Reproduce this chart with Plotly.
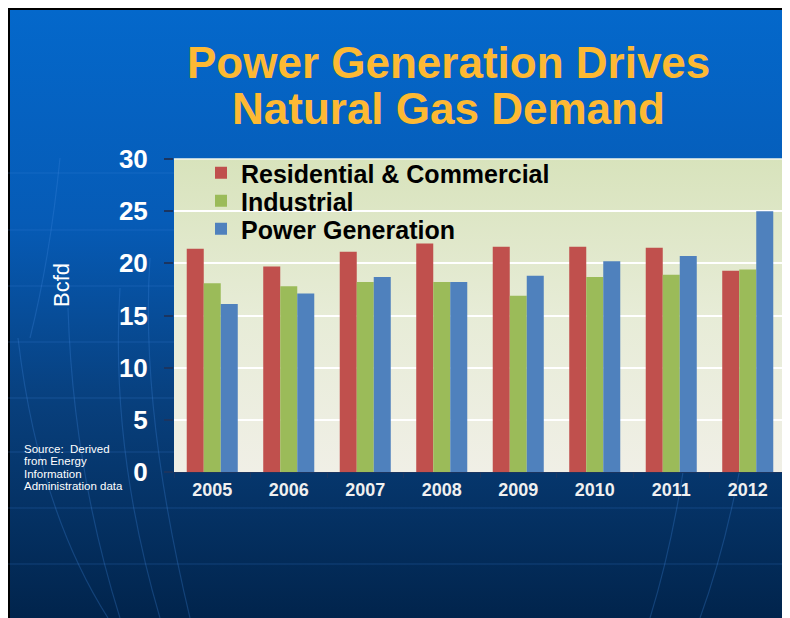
import base64
import plotly.graph_objects as go

# values (Bcfd)
years = ["2005", "2006", "2007", "2008", "2009", "2010", "2011", "2012"]
residential = [21.4, 19.7, 21.1, 21.9, 21.6, 21.6, 21.5, 19.3]
industrial = [18.1, 17.8, 18.2, 18.2, 16.9, 18.7, 18.9, 19.4]
power_gen = [16.1, 17.1, 18.7, 18.2, 18.8, 20.2, 20.7, 25.0]

series_names = ["Residential & Commercial", "Industrial", "Power Generation"]
series_colors = ["#C0504D", "#9BBB59", "#4F81BD"]
source_lines = ["Source:\u00a0 Derived", "from Energy", "Information", "Administration data"]

# page has an 8px body margin, so the figure is a bit smaller than the window
OFF = 8
W, H = 790 - OFF, 618 - OFF
L, R, T, B = 166, 4, 151, 146
PW, PH = W - L - R, H - T - B


def px(x):  # page pixel -> paper x
    return (x - OFF - L) / PW


def py(y):  # page pixel -> paper y
    return (H - B - (y - OFF)) / PH


def svg_uri(svg):
    return "data:image/svg+xml;base64," + base64.b64encode(svg.encode()).decode()


# slide background: blue gradient with faint globe lines (figure pixel coords)
lat = "".join(
    f'<line x1="0" y1="{y - OFF}" x2="{W}" y2="{y - OFF}" stroke="#3f8ae0" stroke-opacity="0.25" stroke-width="1.2"/>'
    for y in [173, 230, 286, 342, 398, 452, 508, 564]
)
mer = "".join(
    f'<path d="M{x0},{y0} Q{cx},{cy} {x1},{y1}" fill="none" stroke="#3f8ae0" stroke-opacity="0.28" stroke-width="1.2"/>'
    for x0, y0, cx, cy, x1, y1 in [
        (10, 330, 30, 500, 100, 610), (60, 300, 65, 460, 112, 610),
        (112, 280, 102, 440, 152, 610), (142, 250, 132, 400, 182, 610),
        (692, 300, 682, 480, 642, 610), (752, 330, 732, 500, 692, 610),
        (222, 150, 192, 250, 197, 330), (52, 150, 42, 250, 22, 330),
    ]
)
slide_svg = f"""<svg xmlns="http://www.w3.org/2000/svg" width="{W}" height="{H}" viewBox="0 0 {W} {H}" preserveAspectRatio="none">
<defs><linearGradient id="g" x1="0" y1="0" x2="0" y2="1">
<stop offset="0" stop-color="#0468CB"/><stop offset="0.35" stop-color="#065BB6"/>
<stop offset="0.65" stop-color="#083F7C"/><stop offset="1" stop-color="#01244C"/>
</linearGradient></defs>
<rect width="{W}" height="{H}" fill="#000000"/>
<rect x="2" y="2" width="{W - 4}" height="{H - 2}" fill="url(#g)"/>
{lat}{mer}
</svg>"""

plot_svg = """<svg xmlns="http://www.w3.org/2000/svg" width="100" height="100" viewBox="0 0 100 100" preserveAspectRatio="none">
<defs><linearGradient id="p" x1="0" y1="0" x2="0" y2="1">
<stop offset="0" stop-color="#D8E3BC"/><stop offset="0.5" stop-color="#E7ECD7"/>
<stop offset="1" stop-color="#F0EFE6"/></linearGradient></defs>
<rect width="100" height="100" fill="url(#p)"/></svg>"""

font = "Liberation Sans, Arial, sans-serif"

fig = go.Figure()
legend_ids = ["legend", "legend2", "legend3"]
legend_rows = [173, 201, 229]
for name, vals, color, lid in zip(series_names, [residential, industrial, power_gen],
                                  series_colors, legend_ids):
    fig.add_trace(go.Bar(x=years, y=vals, name=name, marker_color=color,
                         marker_line_width=0, legend=lid))

legend_style = dict(xanchor="left", yanchor="middle", bgcolor="rgba(0,0,0,0)",
                    font=dict(family=font, size=25, color="black", weight="bold"),
                    itemclick=False, borderwidth=0)
legends = {lid: dict(x=px(201), y=py(row), **legend_style)
           for lid, row in zip(legend_ids, legend_rows)}

annotations = [
    dict(text="Power Generation Drives", x=px(448), y=py(62), xref="paper", yref="paper",
         showarrow=False, xanchor="center", yanchor="middle",
         font=dict(family=font, size=44, color="#FDB933", weight="bold")),
    dict(text="Natural Gas Demand", x=px(448), y=py(108), xref="paper", yref="paper",
         showarrow=False, xanchor="center", yanchor="middle",
         font=dict(family=font, size=44, color="#FDB933", weight="bold")),
    dict(text="Bcfd", x=px(61), y=py(285), xref="paper", yref="paper",
         showarrow=False, xanchor="center", yanchor="middle", textangle=-90,
         font=dict(family=font, size=22, color="white")),
]
for i, line in enumerate(source_lines):
    annotations.append(dict(text=line, x=px(22), y=py(449 + i * 12.4), xref="paper", yref="paper",
                            showarrow=False, xanchor="left", yanchor="middle",
                            font=dict(family=font, size=11.5, color="white")))

fig.update_layout(
    width=W, height=H,
    margin=dict(l=L, r=R, t=T, b=B, pad=0),
    paper_bgcolor="white",
    plot_bgcolor="rgba(0,0,0,0)",
    barmode="group", bargap=0.333, bargroupgap=0,
    showlegend=True,
    images=[
        dict(source=svg_uri(slide_svg), xref="paper", yref="paper",
             x=-L / PW, y=1 + T / PH, sizex=W / PW, sizey=H / PH,
             xanchor="left", yanchor="top", sizing="stretch", layer="below"),
        dict(source=svg_uri(plot_svg), xref="paper", yref="paper",
             x=0, y=1, sizex=1, sizey=1,
             xanchor="left", yanchor="top", sizing="stretch", layer="below"),
    ],
    annotations=annotations,
    shapes=[dict(type="line", xref="paper", yref="paper", x0=0, x1=1, y0=1, y1=1,
                 line=dict(color="#F4F6EC", width=1.5))],
    **legends,
)

fig.update_yaxes(
    range=[0, 30], dtick=5, tick0=0,
    showgrid=True, gridcolor="white", gridwidth=2,
    zeroline=False, showline=False,
    ticks="outside", ticklen=9, tickcolor="#1B3560", tickwidth=2,
    ticklabelstandoff=11,
    tickfont=dict(family=font, size=26, color="white", weight="bold"),
)
fig.update_xaxes(
    showgrid=False, showline=True, linecolor="#1B3560", linewidth=1,
    ticks="outside", ticklen=5, tickcolor="#1B3560", tickson="boundaries",
    ticklabelstandoff=1,
    tickfont=dict(family=font, size=18, color="#F0F0F0", weight="bold"),
)

fig.write_html("out.html")
